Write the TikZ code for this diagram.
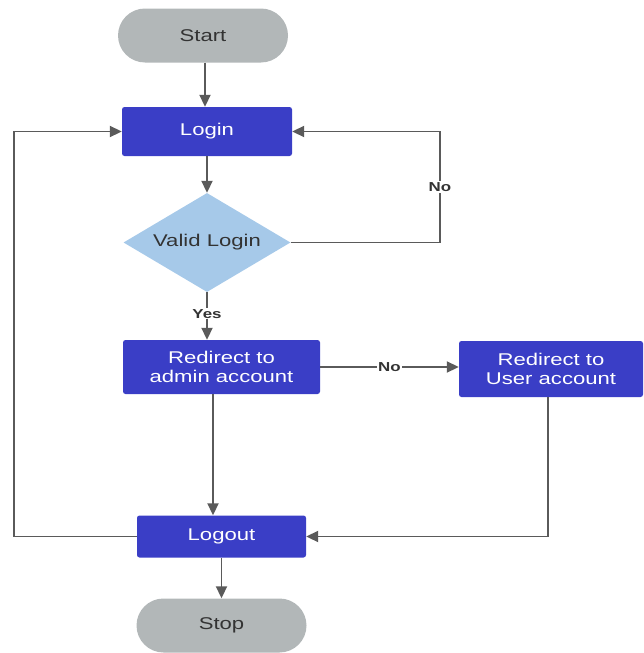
\documentclass[tikz,border=0pt]{standalone}
\usepackage{fontspec}
\setmainfont{Liberation Sans}[FakeStretch=1.3]
\usetikzlibrary{shapes.geometric,shapes.misc,arrows.meta}
\definecolor{boxblue}{HTML}{3A3EC6}
\definecolor{decblue}{HTML}{A6C9E9}
\definecolor{termgray}{HTML}{B2B7B8}
\definecolor{linegray}{HTML}{5A5A5A}
\definecolor{txtdark}{HTML}{333333}
\tikzset{
  terminal/.style={rounded rectangle, fill=termgray, text=txtdark, minimum width=170pt, minimum height=54pt, inner sep=0pt, font=\fontsize{17}{20}\selectfont},
  procbox/.style={rectangle, rounded corners=2.5pt, fill=boxblue, text=white, inner sep=0pt, align=center, font=\fontsize{17}{19}\selectfont},
  decision/.style={diamond, aspect=1.7, fill=decblue, text=txtdark, inner sep=0pt, minimum width=167pt, minimum height=99pt, font=\fontsize{17}{20}\selectfont},
  flow/.style={draw=linegray, line width=1.9pt, -{Triangle[length=12pt,width=11pt]}},
  tag/.style={fill=white, text=txtdark, inner sep=1pt, font=\bfseries\fontsize{13}{15}\selectfont}
}
\begin{document}
\begin{tikzpicture}[x=1pt,y=-1pt]
  \useasboundingbox (0,0) rectangle (644,653);
  % nodes
  \node[terminal] (start) at (203,35.5) {Start};
  \node[procbox, minimum width=170pt, minimum height=49pt] (login) at (207,131.5) {Login};
  \node[decision] (valid) at (207,242.5) {Valid Login};
  \node[procbox, minimum width=197pt, minimum height=54pt] (admin) at (221.5,367) {Redirect to\\admin account};
  \node[procbox, minimum width=184pt, minimum height=56pt] (user) at (551,369) {Redirect to\\User account};
  \node[procbox, minimum width=169pt, minimum height=42pt] (logout) at (221.5,536.5) {Logout};
  \node[terminal] (stop) at (221.5,625.5) {Stop};
  % bend points of the loops
  \coordinate (noturn) at (440,242.5);
  \coordinate (leftturn) at (14,536.5);
  \coordinate (userturn) at (548,536.5);
  % connectors
  \draw[flow] (start.south -| 205,0) -- (login.north -| 205,0);
  \draw[flow] (login.south) -- (valid.north);
  \draw[flow] (valid.east) -- (noturn) -- (noturn |- login.east)
     node[tag, pos=0.5] {No} -- (login.east);
  \draw[flow] (valid.south) -- node[tag, pos=0.45] {Yes} (admin.north -| valid.south);
  \draw[flow] (admin.east) -- node[tag, pos=0.5] {No} (user.west |- admin.east);
  \draw[flow] (admin.south -| 213,0) -- (logout.north -| 213,0);
  \draw[flow] (user.south -| userturn) -- (userturn) -- (logout.east);
  \draw[flow] (logout.west) -- (leftturn) -- (leftturn |- login.west) -- (login.west);
  \draw[flow] (logout.south) -- (stop.north);
\end{tikzpicture}
\end{document}
